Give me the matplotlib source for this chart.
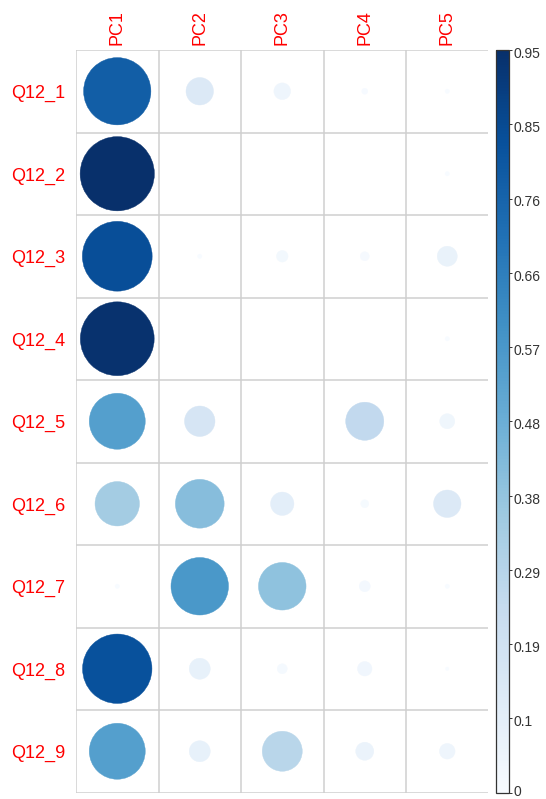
import matplotlib
matplotlib.use("Agg")
import matplotlib.pyplot as plt
import matplotlib.transforms as mtransforms
import numpy as np
from matplotlib.patches import Circle
from matplotlib.colors import Normalize
from matplotlib.cm import ScalarMappable

plt.rcParams["font.family"] = ["Liberation Sans", "DejaVu Sans"]

items = ["Q12_1", "Q12_2", "Q12_3", "Q12_4", "Q12_5", "Q12_6", "Q12_7", "Q12_8", "Q12_9"]
components = ["PC1", "PC2", "PC3", "PC4", "PC5"]

# absolute loadings of each item on each component
pc1 = [0.78, 0.95, 0.84, 0.94, 0.54, 0.34, 0.003, 0.83, 0.54]
pc2 = [0.13, 0.0, 0.003, 0.0, 0.16, 0.41, 0.57, 0.076, 0.076]
pc3 = [0.048, 0.0, 0.023, 0.0, 0.0, 0.094, 0.39, 0.017, 0.276]
pc4 = [0.006, 0.0, 0.014, 0.0, 0.25, 0.011, 0.021, 0.036, 0.056]
pc5 = [0.003, 0.003, 0.069, 0.003, 0.039, 0.13, 0.003, 0.002, 0.042]

cbar_labels = ["0", "0.1", "0.19", "0.29", "0.38", "0.48", "0.57", "0.66", "0.76", "0.85", "0.95"]

loadings = np.array([pc1, pc2, pc3, pc4, pc5]).T  # rows = items, cols = components
vmax = loadings.max()

W, H = 546, 799
fig = plt.figure(figsize=(W / 100, H / 100), dpi=100)
gx0, gx1, gy0, gy1 = 76, 488.5, 50, 792.5
ax = fig.add_axes([gx0 / W, 1 - gy1 / H, (gx1 - gx0) / W, (gy1 - gy0) / H])

cmap = plt.get_cmap("Blues")
norm = Normalize(vmin=0, vmax=vmax)
n_rows, n_cols = loadings.shape

for i in range(n_rows):
    for j in range(n_cols):
        v = loadings[i, j]
        if v <= 0:
            continue
        r = 0.45 * np.sqrt(v / vmax)
        c = cmap(norm(v))
        ax.add_patch(Circle((j + 0.5, n_rows - i - 0.5), r, facecolor=c,
                            edgecolor=c, linewidth=0.3, zorder=2))

grid_col = "#CFCFCF"
for k in range(n_cols + 1):
    ax.axvline(k, color=grid_col, lw=1.1, zorder=1)
for k in range(n_rows + 1):
    ax.axhline(k, color=grid_col, lw=1.1, zorder=1)

ax.set_xlim(0, n_cols)
ax.set_ylim(0, n_rows)
for s in ax.spines.values():
    s.set_visible(False)
ax.set_xticks([])
ax.set_yticks([])

for j, name in enumerate(components):
    ax.text(j + 0.5, n_rows + 0.06, name, rotation=90, ha="center", va="bottom",
            color="red", fontsize=13)
for i, name in enumerate(items):
    ax.text(-0.13, n_rows - i - 0.53, name, ha="right", va="center",
            color="red", fontsize=13)

# colour legend: labels evenly spaced along the bar
cax = fig.add_axes([495.5 / W, 1 - gy1 / H, 13.5 / W, (gy1 - gy0) / H])
cb = fig.colorbar(ScalarMappable(norm=norm, cmap=cmap), cax=cax)
cb.set_ticks(np.linspace(0, vmax, len(cbar_labels)))
cb.set_ticklabels(cbar_labels)
cb.outline.set_edgecolor("#333333")
cb.outline.set_linewidth(0.9)
cax.tick_params(axis="y", direction="out", length=2.5, width=0.7, pad=0.5,
                labelsize=10, colors="#333333")
for k, lab in enumerate(cax.get_yticklabels()):
    dy = 0.0 if k == 0 else 2.5
    shift = mtransforms.ScaledTranslation(0, -dy / 100, fig.dpi_scale_trans)
    lab.set_transform(lab.get_transform() + shift)
    if k == 0:
        lab.set_va("bottom")
        lab.set_transform(lab.get_transform() + mtransforms.ScaledTranslation(0, -6 / 100, fig.dpi_scale_trans))

fig.savefig("out.png", dpi=100, facecolor="white")
